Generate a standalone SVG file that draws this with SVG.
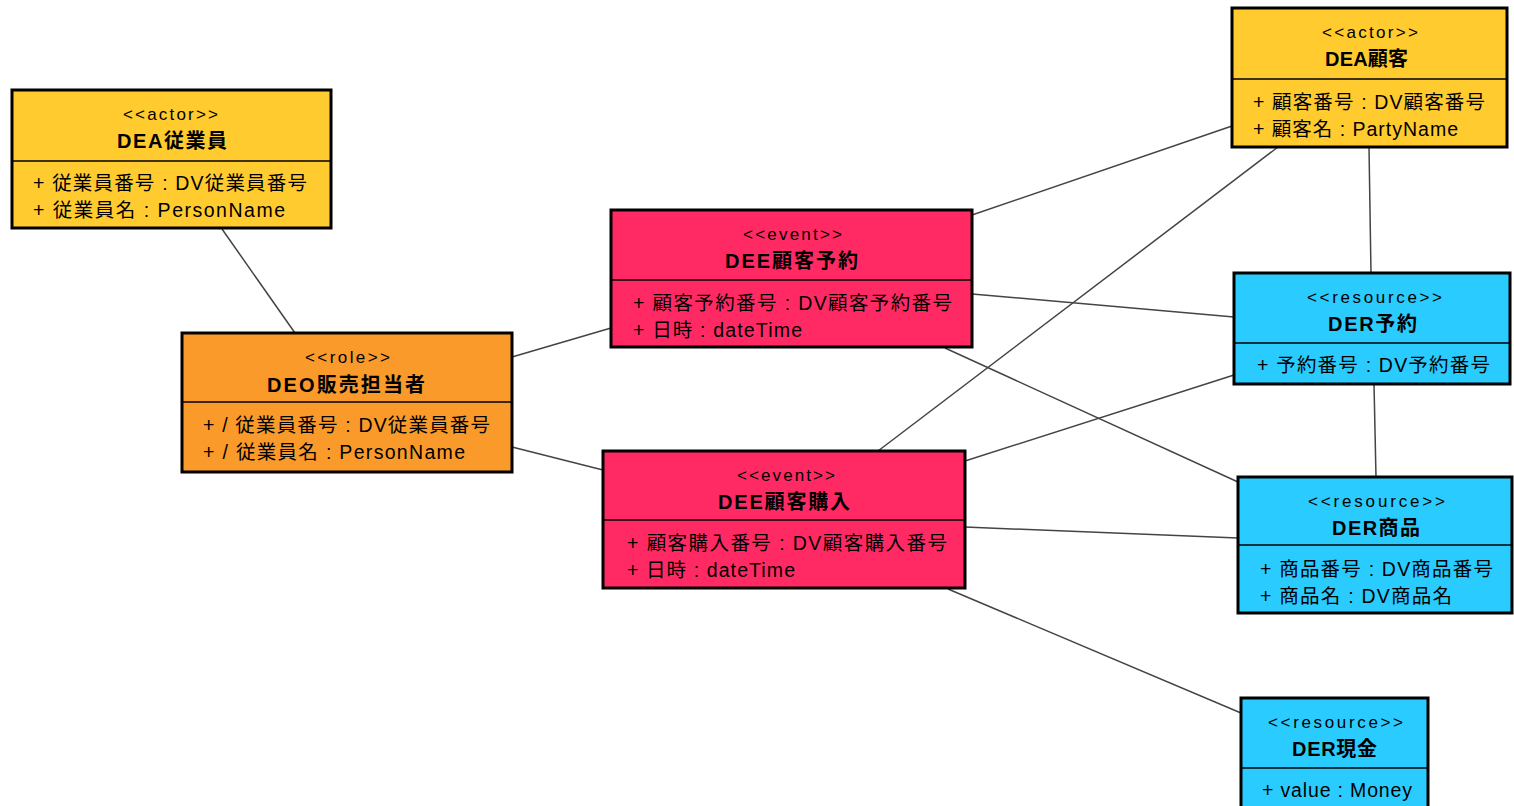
<svg xmlns="http://www.w3.org/2000/svg" width="1514" height="806" viewBox="0 0 1514 806">
  <style>
    text { font-family: "Liberation Sans", "Noto Sans CJK JP", sans-serif; fill: #000; }
    .st { font-size: 17px; }
    .nm { font-size: 20px; font-weight: bold; }
    .at { font-size: 19.5px; }
    .box { stroke: #000; stroke-width: 3; }
    .div { stroke: #000; stroke-width: 1.5; }
    .actor { fill: #FFCB2F; }
    .role { fill: #FA9A2A; }
    .event { fill: #FF2A64; }
    .resource { fill: #2ACCFF; }
    .conn line { stroke: #444; stroke-width: 1.5; }
  </style>
  <rect width="1514" height="806" fill="#fff"/>

  <g class="conn" id="connectors">
    <line x1="222" y1="229" x2="295" y2="333"/>
    <line x1="512" y1="357" x2="611" y2="328"/>
    <line x1="512" y1="447" x2="603" y2="470"/>
    <line x1="972" y1="215" x2="1232" y2="126"/>
    <line x1="972" y1="294" x2="1234" y2="317"/>
    <line x1="945" y1="348" x2="1238" y2="482"/>
    <line x1="878" y1="451" x2="1278" y2="147"/>
    <line x1="965" y1="461" x2="1234" y2="375"/>
    <line x1="965" y1="527" x2="1238" y2="538"/>
    <line x1="948" y1="589" x2="1241" y2="713"/>
    <line x1="1369" y1="147" x2="1371" y2="273"/>
    <line x1="1374" y1="384" x2="1376" y2="477"/>
  </g>

  <g id="DEA従業員">
    <rect class="box actor" x="12" y="90" width="319" height="138"/>
    <line class="div" x1="12" y1="161" x2="331" y2="161"/>
    <text class="st" x="123" y="120" textLength="95">&lt;&lt;actor&gt;&gt;</text>
    <text class="nm" x="117" y="148" textLength="110">DEA従業員</text>
    <text class="at" x="33" y="190" textLength="274">+ 従業員番号 : DV従業員番号</text>
    <text class="at" x="33" y="217" textLength="252">+ 従業員名 : PersonName</text>
  </g>

  <g id="DEO販売担当者">
    <rect class="box role" x="182" y="333" width="330" height="139"/>
    <line class="div" x1="182" y1="402" x2="512" y2="402"/>
    <text class="st" x="305" y="363" textLength="85">&lt;&lt;role&gt;&gt;</text>
    <text class="nm" x="267" y="392" textLength="158">DEO販売担当者</text>
    <text class="at" x="203" y="432" textLength="287">+ / 従業員番号 : DV従業員番号</text>
    <text class="at" x="203" y="459" textLength="262">+ / 従業員名 : PersonName</text>
  </g>

  <g id="DEE顧客予約">
    <rect class="box event" x="611" y="210" width="361" height="137"/>
    <line class="div" x1="611" y1="280" x2="972" y2="280"/>
    <text class="st" x="743" y="240" textLength="99">&lt;&lt;event&gt;&gt;</text>
    <text class="nm" x="725" y="268" textLength="133">DEE顧客予約</text>
    <text class="at" x="633" y="310" textLength="319">+ 顧客予約番号 : DV顧客予約番号</text>
    <text class="at" x="633" y="337" textLength="169">+ 日時 : dateTime</text>
  </g>

  <g id="DEE顧客購入">
    <rect class="box event" x="603" y="451" width="362" height="137"/>
    <line class="div" x1="603" y1="520" x2="965" y2="520"/>
    <text class="st" x="737" y="481" textLength="98">&lt;&lt;event&gt;&gt;</text>
    <text class="nm" x="718" y="509" textLength="132">DEE顧客購入</text>
    <text class="at" x="627" y="550" textLength="320">+ 顧客購入番号 : DV顧客購入番号</text>
    <text class="at" x="627" y="577" textLength="168">+ 日時 : dateTime</text>
  </g>

  <g id="DEA顧客">
    <rect class="box actor" x="1232" y="8" width="275" height="139"/>
    <line class="div" x1="1232" y1="79" x2="1507" y2="79"/>
    <text class="st" x="1322" y="38" textLength="96">&lt;&lt;actor&gt;&gt;</text>
    <text class="nm" x="1325" y="66" textLength="83">DEA顧客</text>
    <text class="at" x="1253" y="109" textLength="232">+ 顧客番号 : DV顧客番号</text>
    <text class="at" x="1253" y="136" textLength="205">+ 顧客名 : PartyName</text>
  </g>

  <g id="DER予約">
    <rect class="box resource" x="1234" y="273" width="276" height="111"/>
    <line class="div" x1="1234" y1="343" x2="1510" y2="343"/>
    <text class="st" x="1307" y="303" textLength="135">&lt;&lt;resource&gt;&gt;</text>
    <text class="nm" x="1328" y="331" textLength="89">DER予約</text>
    <text class="at" x="1257" y="372" textLength="233">+ 予約番号 : DV予約番号</text>
  </g>

  <g id="DER商品">
    <rect class="box resource" x="1238" y="477" width="274" height="136"/>
    <line class="div" x1="1238" y1="545" x2="1512" y2="545"/>
    <text class="st" x="1308" y="507" textLength="137">&lt;&lt;resource&gt;&gt;</text>
    <text class="nm" x="1332" y="535" textLength="88">DER商品</text>
    <text class="at" x="1260" y="576" textLength="233">+ 商品番号 : DV商品番号</text>
    <text class="at" x="1260" y="603" textLength="192">+ 商品名 : DV商品名</text>
  </g>

  <g id="DER現金">
    <rect class="box resource" x="1241" y="698" width="187" height="120"/>
    <line class="div" x1="1241" y1="768" x2="1428" y2="768"/>
    <text class="st" x="1268" y="728" textLength="135">&lt;&lt;resource&gt;&gt;</text>
    <text class="nm" x="1292" y="756" textLength="85">DER現金</text>
    <text class="at" x="1262" y="797" textLength="150">+ value : Money</text>
  </g>
</svg>
